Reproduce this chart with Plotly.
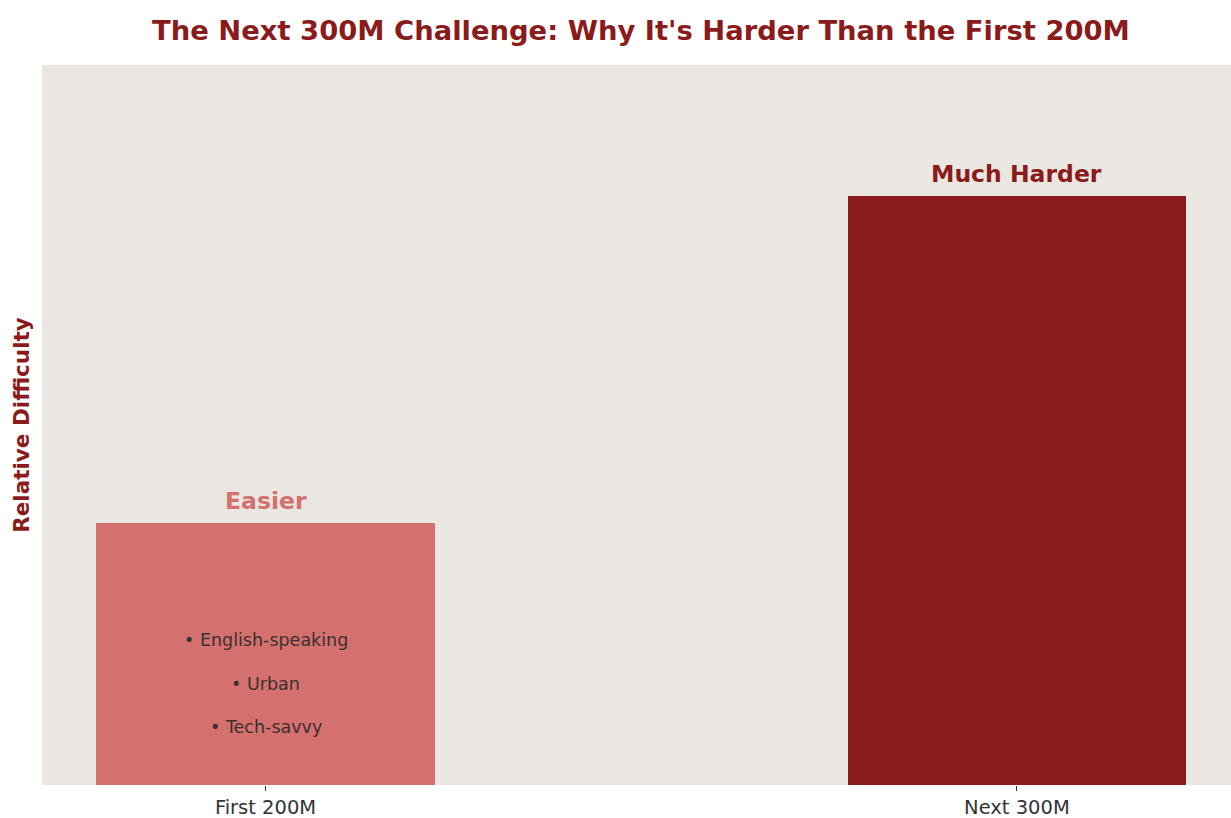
import plotly.graph_objects as go

# Difficulty scores for each user segment
categories = ["First 200M", "Next 300M"]
difficulty = [4, 9]
bar_labels = ["Easier", "Much Harder"]
bar_colors = ["#D4706E", "#8B1A1A"]
first_traits = ["• English-speaking", "• Urban", "• Tech-savvy"]

DARK_RED = "#8B1A1A"
FONT = "DejaVu Sans"

x_pos = list(range(len(categories)))

fig = go.Figure()
fig.add_trace(go.Bar(
    x=x_pos,
    y=difficulty,
    width=0.45,
    marker=dict(color=bar_colors, line=dict(width=0)),
    hoverinfo="skip",
))

# Labels above each bar
for xi, val, lab, col in zip(x_pos, difficulty, bar_labels, bar_colors):
    fig.add_annotation(
        x=xi, y=val + 0.2, text=f"<b>{lab}</b>", showarrow=False,
        yanchor="bottom", xanchor="center", yshift=-7,
        font=dict(family=FONT, size=23.5, color=col),
    )

# Traits listed inside the first bar
trait_center = 1.55
trait_step = 0.66
for i, t in enumerate(first_traits):
    fig.add_annotation(
        x=x_pos[0], y=trait_center + (1 - i) * trait_step, text=t,
        showarrow=False, xanchor="center", yanchor="middle",
        font=dict(family=FONT, size=17.5, color="#3a3030"),
    )

# Title centred over the plotting area
fig.add_annotation(
    xref="paper", yref="paper", x=0.5042, y=1, yshift=35,
    text="<b>The Next 300M Challenge: Why It's Harder Than the First 200M</b>",
    showarrow=False, xanchor="center", yanchor="middle",
    font=dict(family=FONT, size=27.4, color=DARK_RED),
)

fig.update_layout(
    width=1231, height=818,
    margin=dict(l=42, r=0, t=65, b=33),
    paper_bgcolor="white",
    plot_bgcolor="#EAE7E2",
    showlegend=False,
    bargap=0,
    xaxis=dict(
        tickmode="array", tickvals=x_pos, ticktext=categories,
        range=[-0.2975, 1.285],
        showgrid=False, zeroline=False, showline=False,
        ticks="outside", ticklen=5, tickwidth=1, tickcolor="#333333",
        tickfont=dict(family=FONT, size=19.5, color="#333333"),
    ),
    yaxis=dict(
        range=[0, 11],
        showgrid=False, zeroline=False, showline=False,
        showticklabels=False, ticks="",
        title=dict(
            text="<b>Relative Difficulty</b>", standoff=5,
            font=dict(family=FONT, size=21.5, color=DARK_RED),
        ),
    ),
)

fig.write_html("out.html")
